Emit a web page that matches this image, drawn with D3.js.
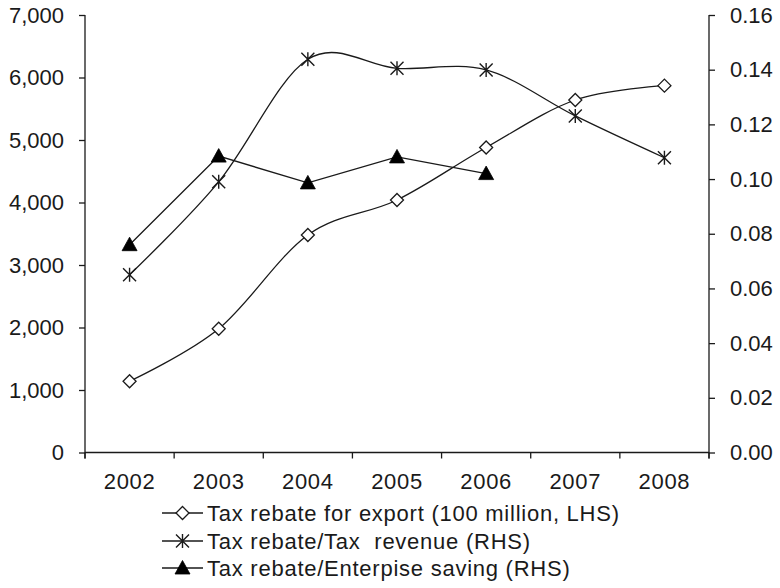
<!DOCTYPE html>
<html>
<head>
<meta charset="utf-8">
<script src="https://cdn.jsdelivr.net/npm/d3@7"></script>
<style>
  html, body { margin: 0; padding: 0; background: #fff; }
  svg { display: block; font-family: "Liberation Sans", Arial, sans-serif; }
  text { white-space: pre; }
</style>
</head>
<body>
<svg id="chart" width="780" height="588"></svg>
<script>
const years = ["2002", "2003", "2004", "2005", "2006", "2007", "2008"];
const exportRebate = [1140, 1980, 3480, 4040, 4880, 5640, 5870];
const rebateTaxRevenue = [0.065, 0.099, 0.1438, 0.1405, 0.1399, 0.1231, 0.1078];
const rebateEnterpriseSaving = [0.076, 0.1084, 0.0986, 0.1081, 0.102];
const leftTicks = [0, 1000, 2000, 3000, 4000, 5000, 6000, 7000];
const rightTicks = [0, 0.02, 0.04, 0.06, 0.08, 0.10, 0.12, 0.14, 0.16];
const legendLabels = [
  "Tax rebate for export (100 million, LHS)",
  "Tax rebate/Tax  revenue (RHS)",
  "Tax rebate/Enterpise saving (RHS)"
];

const svg = d3.select("#chart");
const mLeft = 85, mRight = 709, mTop = 15, mBottom = 452.5;
const ink = "#1a1a1a";
const fontSize = 22;

const x = d3.scaleBand().domain(years).range([mLeft, mRight]).paddingInner(0).paddingOuter(0);
const cx = d => x(d) + x.bandwidth() / 2;
const yL = d3.scaleLinear().domain([0, 7000]).range([mBottom, mTop]);
const yR = d3.scaleLinear().domain([0, 0.16]).range([mBottom, mTop]);

const gL = svg.append("g").attr("transform", `translate(${mLeft},0)`)
  .call(d3.axisLeft(yL).tickValues(leftTicks).tickFormat(d3.format(",")).tickSize(6).tickPadding(15));
const gR = svg.append("g").attr("transform", `translate(${mRight},0)`)
  .call(d3.axisRight(yR).tickValues(rightTicks).tickFormat(d3.format(".2f")).tickSize(6).tickPadding(15));
const gB = svg.append("g").attr("transform", `translate(0,${mBottom})`)
  .call(d3.axisBottom(x).tickSize(0).tickPadding(21));
[gL, gR, gB].forEach(g => {
  g.select(".domain").attr("stroke", ink).attr("stroke-width", 1.3);
  g.selectAll(".tick line").attr("stroke", ink).attr("stroke-width", 1.3);
  g.selectAll(".tick text").attr("fill", ink).attr("font-size", fontSize)
    .attr("font-family", "'Liberation Sans', Arial, sans-serif");
});
gB.selectAll(".tick text").attr("letter-spacing", 0.7);
gB.select(".domain").attr("d", `M${mLeft},0H${mRight}`);
gL.select(".domain").attr("d", `M0,${mBottom + 6}V${mTop}`);
gR.select(".domain").attr("d", `M0,${mBottom + 6}V${mTop}`);

const boundaries = years.map(d => x(d)).concat([x.range()[1]]);
svg.append("g").selectAll("line").data(boundaries).join("line")
  .attr("x1", d => d).attr("x2", d => d)
  .attr("y1", mBottom).attr("y2", mBottom + 6)
  .attr("stroke", ink).attr("stroke-width", 1.3);

const smooth = d3.curveCardinal.tension(0);

const lineExport = d3.line().x((d, i) => cx(years[i])).y(d => yL(d)).curve(smooth);
const lineTax = d3.line().x((d, i) => cx(years[i])).y(d => yR(d)).curve(smooth);
const lineEnt = d3.line().x((d, i) => cx(years[i])).y(d => yR(d));

svg.append("path").attr("d", lineExport(exportRebate)).attr("fill", "none").attr("stroke", ink).attr("stroke-width", 1.3);
svg.append("path").attr("d", lineTax(rebateTaxRevenue)).attr("fill", "none").attr("stroke", ink).attr("stroke-width", 1.3);
svg.append("path").attr("d", lineEnt(rebateEnterpriseSaving)).attr("fill", "none").attr("stroke", ink).attr("stroke-width", 1.3);

function diamond(g, px, py) {
  const s = 6.5;
  g.append("path").attr("d", `M${px},${py - s}L${px + s},${py}L${px},${py + s}L${px - s},${py}Z`)
    .attr("fill", "#fff").attr("stroke", ink).attr("stroke-width", 1.3);
}
function star(g, px, py) {
  const s = 6.5;
  g.append("path").attr("d",
    `M${px - s},${py - s}L${px + s},${py + s}M${px - s},${py + s}L${px + s},${py - s}M${px},${py - s - 0.5}L${px},${py + s + 0.5}`)
    .attr("fill", "none").attr("stroke", ink).attr("stroke-width", 1.4);
}
function triangle(g, px, py) {
  const s = 7.5;
  g.append("path").attr("d", `M${px},${py - s}L${px + s},${py + s * 0.8}L${px - s},${py + s * 0.8}Z`)
    .attr("fill", "#000").attr("stroke", "#000").attr("stroke-width", 0.8);
}

const gm = svg.append("g");
exportRebate.forEach((v, i) => diamond(gm, cx(years[i]), yL(v)));
rebateTaxRevenue.forEach((v, i) => star(gm, cx(years[i]), yR(v)));
rebateEnterpriseSaving.forEach((v, i) => triangle(gm, cx(years[i]), yR(v)));

const legY = [513, 541, 568];
const markers = [diamond, star, triangle];
legendLabels.forEach((lab, i) => {
  const g = svg.append("g");
  g.append("line").attr("x1", 162).attr("x2", 203).attr("y1", legY[i]).attr("y2", legY[i])
    .attr("stroke", ink).attr("stroke-width", 1.3);
  markers[i](g, 182.5, legY[i]);
  g.append("text").attr("x", 207).attr("y", legY[i]).attr("dy", "0.36em")
    .attr("font-size", fontSize).attr("letter-spacing", 0.75).attr("fill", ink).text(lab);
});
</script>
</body>
</html>
